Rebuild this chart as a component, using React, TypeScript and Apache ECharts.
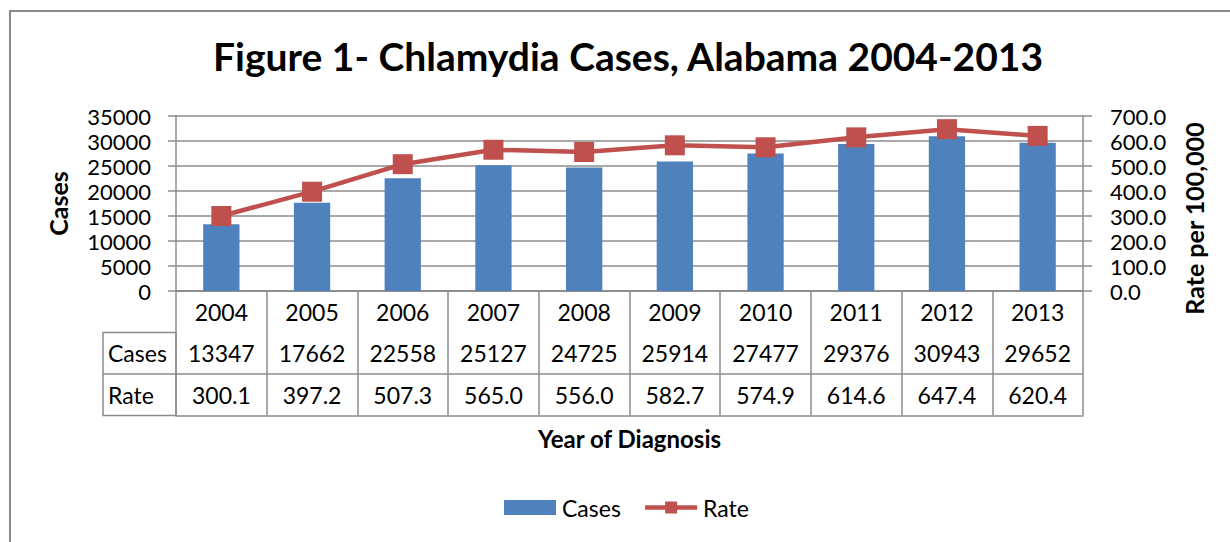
import React, { useEffect, useRef } from "react";
import * as echarts from "echarts";

const years = ["2004", "2005", "2006", "2007", "2008", "2009", "2010", "2011", "2012", "2013"];
const cases = [13347, 17662, 22558, 25127, 24725, 25914, 27477, 29376, 30943, 29652];
const rates = [300.1, 397.2, 507.3, 565.0, 556.0, 582.7, 574.9, 614.6, 647.4, 620.4];
const caseTicks = { min: 0, max: 35000, interval: 5000 };
const rateTicks = { min: 0, max: 700, interval: 100 };

const FONT = "Lato";
const GRAY = "#8c8c8c";
const GRID = { left: 176, top: 116, width: 907, height: 175 };
const ROW = 41.5;

export default function App() {
  const ref = useRef<HTMLDivElement>(null);
  useEffect(() => {
    if (!ref.current) return;
    const chart = echarts.init(ref.current, null, { renderer: "svg" });
    const labelStyle = { fontFamily: FONT, fontSize: 23, color: "#000" };
    const axisLabelStyle = { fontFamily: FONT, fontSize: 22, color: "#000" };
    const nameStyle = { fontFamily: FONT, fontSize: 25, fontWeight: "bold", color: "#000" };
    const tableAxis = (offset: number, labels: string[] | null, extra: any = {}) => ({
      type: "category",
      gridIndex: 0,
      position: "bottom",
      offset,
      data: years,
      axisLine: { show: true, lineStyle: { color: GRAY, width: 1.5 } },
      axisTick: { show: false },
      axisLabel: labels
        ? {
            show: true,
            ...labelStyle,
            margin: 0,
            lineHeight: ROW,
            formatter: (_v: string, i: number) => labels[i],
          }
        : { show: false },
      ...extra,
    });
    const left = GRID.left;
    const bottom = GRID.top + GRID.height;
    chart.setOption({
      animation: false,
      backgroundColor: "#fff",
      title: {
        text: "Figure 1- Chlamydia Cases, Alabama 2004-2013",
        left: 208,
        top: 31,
        textStyle: { fontFamily: FONT, fontSize: 39, fontWeight: "bold", color: "#000" },
      },
      legend: {
        bottom: 18,
        left: 499,
        itemWidth: 52,
        itemHeight: 15,
        itemGap: 22,
        textStyle: { fontFamily: FONT, fontSize: 23, color: "#000", padding: [0, 0, 0, 1] },
        data: [
          { name: "Cases", icon: "rect" },
          { name: "Rate", lineStyle: { width: 4.5, color: "#C0504D" } },
        ],
      },
      grid: { ...GRID, containLabel: false },
      xAxis: [
        {
          type: "category",
          data: years,
          position: "bottom",
          axisLine: { show: true, lineStyle: { color: GRAY, width: 1.5 } },
          axisTick: { show: true, length: ROW * 3, lineStyle: { color: GRAY, width: 1.5 } },
          axisLabel: { ...labelStyle, margin: 0, lineHeight: ROW },
        },
        tableAxis(ROW, cases.map((v) => String(v))),
        tableAxis(ROW * 2, rates.map((v) => v.toFixed(1))),
        tableAxis(ROW * 3, null, {
          name: "Year of Diagnosis",
          nameLocation: "middle",
          nameGap: 11,
          nameMoveOverlap: false,
          nameTextStyle: { ...nameStyle, fontSize: 24, verticalAlign: "top" },
        }),
      ],
      yAxis: [
        {
          type: "value",
          ...caseTicks,
          name: "Cases",
          nameLocation: "middle",
          nameRotate: 90,
          nameGap: 106,
          nameMoveOverlap: false,
          nameTextStyle: { ...nameStyle, verticalAlign: "bottom" },
          axisLine: { show: true, lineStyle: { color: GRAY, width: 1.5 } },
          axisTick: { show: true, length: 8, lineStyle: { color: GRAY, width: 1.5 } },
          axisLabel: { ...axisLabelStyle, margin: 25, lineHeight: 22, formatter: (v: number) => String(v) },
          splitLine: { show: true, lineStyle: { color: GRAY, width: 1.5 } },
        },
        {
          type: "value",
          ...rateTicks,
          position: "right",
          name: "Rate per 100,000",
          nameLocation: "middle",
          nameRotate: 90,
          nameGap: 98,
          nameMoveOverlap: false,
          nameTextStyle: { ...nameStyle, verticalAlign: "top", padding: [0, 30, 0, 0] },
          axisLine: { show: true, lineStyle: { color: GRAY, width: 1.5 } },
          axisTick: { show: true, length: 9, lineStyle: { color: GRAY, width: 1.5 } },
          axisLabel: { ...axisLabelStyle, margin: 27, lineHeight: 22, formatter: (v: number) => v.toFixed(1) },
          splitLine: { show: false },
        },
      ],
      series: [
        {
          name: "Cases",
          type: "bar",
          data: cases,
          xAxisIndex: 0,
          yAxisIndex: 0,
          barWidth: "40%",
          itemStyle: { color: "#4F81BD" },
        },
        {
          name: "Rate",
          type: "line",
          data: rates,
          xAxisIndex: 0,
          yAxisIndex: 1,
          symbol: "rect",
          symbolSize: 20,
          lineStyle: { color: "#C0504D", width: 4.5 },
          itemStyle: { color: "#C0504D" },
        },
      ],
      graphic: [
        {
          type: "rect",
          shape: { x: 10, y: 11, width: 1300, height: 600 },
          style: { fill: "none", stroke: "#8a8a8a", lineWidth: 2 },
          silent: true,
        },
        {
          type: "rect",
          shape: { x: 103, y: bottom + ROW, width: left - 103, height: ROW * 2 },
          style: { fill: "none", stroke: GRAY, lineWidth: 1.5 },
          silent: true,
        },
        {
          type: "line",
          shape: { x1: 103, y1: bottom + ROW * 2, x2: left, y2: bottom + ROW * 2 },
          style: { stroke: GRAY, lineWidth: 1.5 },
          silent: true,
        },
        {
          type: "text",
          x: 108,
          y: bottom + ROW * 1.5,
          style: { text: "Cases", fontFamily: FONT, fontSize: 23, fill: "#000", verticalAlign: "middle" },
        },
        {
          type: "text",
          x: 108,
          y: bottom + ROW * 2.5,
          style: { text: "Rate", fontFamily: FONT, fontSize: 23, fill: "#000", verticalAlign: "middle" },
        },
      ],
    });
    return () => chart.dispose();
  }, []);
  return (
    <div
      ref={ref}
      style={{ position: "fixed", left: 0, top: 0, width: 1230, height: 542, background: "#fff" }}
    />
  );
}
